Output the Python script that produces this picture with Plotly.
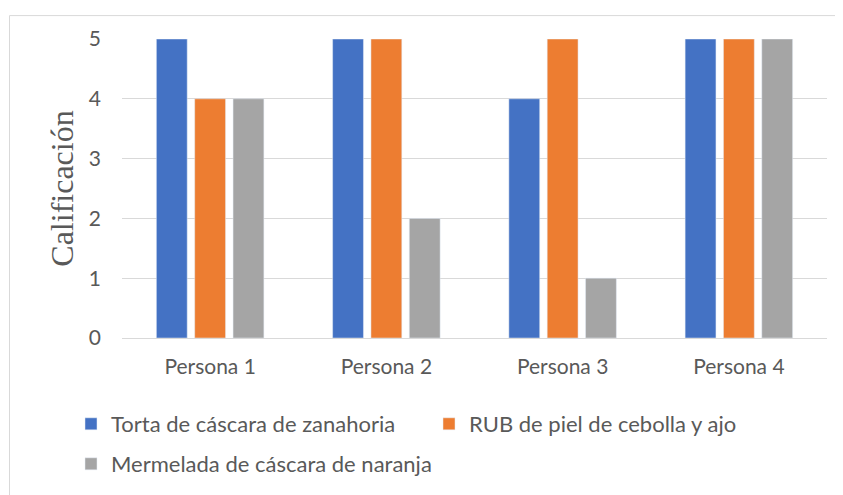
import plotly.graph_objects as go

categories = ["Persona 1", "Persona 2", "Persona 3", "Persona 4"]
torta = [5, 5, 4, 5]
rub = [4, 5, 5, 5]
mermelada = [4, 2, 1, 5]
series_names = ["Torta de cáscara de zanahoria", "RUB de piel de cebolla y ajo",
                "Mermelada de cáscara de naranja"]
colors = ["#4472C4", "#ED7D31", "#A5A5A5"]
y_ticks = [0, 1, 2, 3, 4, 5]

OFF = 8  # page body margin
SW, SH = 843, 495
W, H = SW - OFF, SH - OFF
# plot area in screen pixels
PL, PR, PT, PB = 122, 827, 39, 339
L, T = PL - OFF, PT - OFF
R, B = SW - PR, SH - PB
pw, ph = PR - PL, PB - PT

def sx(px):
    return (px - PL) / pw

def sy(py):
    return (PB - py) / ph

font = "Lato, 'Open Sans', sans-serif"
txt = "#595959"

fig = go.Figure()
bw = 0.175
offsets = [-0.305, -0.0875, 0.13]
for i, (name, vals) in enumerate(zip(series_names, [torta, rub, mermelada])):
    fig.add_trace(go.Bar(
        x=categories, y=vals, name=name, marker_color=colors[i],
        width=bw, offset=offsets[i],
        legend="legend" if i < 2 else "legend2",
    ))

fig.update_layout(
    width=W, height=H,
    margin=dict(l=L, r=R, t=T, b=B),
    paper_bgcolor="white", plot_bgcolor="white",
    font=dict(family=font, size=21, color=txt),
    barmode="overlay",
    showlegend=True,
    legend=dict(orientation="h", x=sx(71), y=sy(424), xanchor="left", yanchor="middle",
                entrywidth=313, entrywidthmode="pixels", itemwidth=30,
                font=dict(family=font, size=22, color=txt), bgcolor="rgba(0,0,0,0)",
                itemclick=False),
    legend2=dict(orientation="h", x=sx(71), y=sy(464), xanchor="left", yanchor="middle",
                 itemwidth=30,
                 font=dict(family=font, size=22, color=txt), bgcolor="rgba(0,0,0,0)",
                 itemclick=False),
    xaxis=dict(showgrid=False, showline=False, ticks="", ticklabelstandoff=14,
               tickfont=dict(family=font, size=21, color=txt), fixedrange=True),
    yaxis=dict(range=[0, 5], tickvals=y_ticks, showgrid=True, gridcolor="#D9D9D9",
               gridwidth=1, zeroline=True, zerolinecolor="#D9D9D9", zerolinewidth=1,
               showline=False, ticks="", ticklabelstandoff=20,
               tickfont=dict(family=font, size=21, color=txt),
               title=dict(text="Calificación", font=dict(family="'Liberation Serif', 'Times New Roman', serif",
                                                         size=32, color=txt), standoff=5),
               fixedrange=True),
    shapes=[dict(type="rect", xref="paper", yref="paper",
                 x0=sx(9.5), x1=sx(900), y0=sy(600), y1=sy(15.5),
                 line=dict(color="#D9D9D9", width=1), fillcolor="rgba(0,0,0,0)", layer="below")],
)

fig.write_html("out.html")
